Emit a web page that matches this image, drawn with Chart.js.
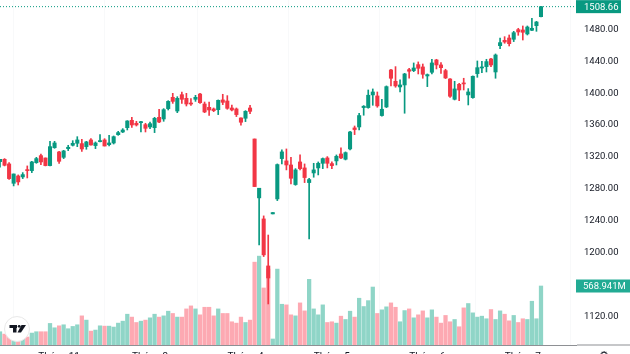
<!DOCTYPE html>
<html>
<head>
<meta charset="utf-8">
<script src="https://cdn.jsdelivr.net/npm/chart.js@4"></script>
<style>
html, body { margin: 0; padding: 0; background: #fff; width: 630px; height: 354px; overflow: hidden; }
canvas { display: block; }
</style>
</head>
<body>
<canvas id="chart" width="630" height="368"></canvas>
<script>
const opens = [1314.2,1317.1,1311.3,1287,1296.2,1295,1303.7,1302.9,1312.9,1321.7,
    1318.8,1309.2,1331.7,1326.3,1319.6,1330.5,1334.7,1337.2,1336.8,1333,
    1341.4,1334.3,1339.3,1341.4,1335.5,1337.6,1348,1351.4,1356.8,1366,
    1362.3,1363.1,1360.6,1357.7,1356.8,1369.8,1367.7,1380.7,1394.9,1377.7,
    1398.2,1393.6,1387.3,1392.4,1399,1386.5,1382.3,1380.3,1379.4,1391.6,
    1390.3,1381.5,1380.3,1369,1368.6,1381.5,1342.6,1268.7,1242.3,1183.3,
    1248.6,1267.4,1318,1315.1,1310,1285.4,1313.8,1306.3,1287.9,1300,
    1306.3,1312.1,1318.8,1311.7,1315.1,1323.8,1317.2,1330.1,1356.5,1357.7,
    1382,1382,1397.9,1396.6,1372,1382.8,1429.2,1415,1407.9,1410.4,
    1429.6,1428.4,1435.9,1433,1421.7,1426.3,1441.8,1435.5,1428.4,1417.9,
    1392.4,1411.2,1412.9,1397.9,1394.5,1424.6,1431.7,1433.4,1443,1426.7,
    1459.7,1466.4,1469.3,1467.7,1479.8,1479.4,1474.4,1479,1484.8,1496.1];
const closes = [1317.1,1309.6,1292.9,1298.7,1288.7,1297.9,1302.9,1313.8,1318,1313.8,
    1309.2,1333,1337.6,1314.6,1327.6,1332.2,1337.2,1341.4,1330.1,1338.9,
    1335.1,1337.6,1340.1,1333.8,1337.6,1345.5,1350.6,1353.9,1365.2,1360.2,
    1360.2,1363.9,1356,1361.8,1368.5,1363.9,1379.4,1389.8,1389.8,1393.6,
    1392.4,1386.5,1386.5,1394.9,1388.2,1376.5,1379,1378.2,1391.1,1388.6,
    1381.1,1379,1373.2,1363.6,1377.3,1377.3,1282.9,1280.8,1197.2,1168.2,
    1250.3,1310.5,1326.4,1310,1293.3,1303.8,1305.4,1294.2,1291.7,1303.8,
    1312.1,1318,1312.1,1309.2,1320.9,1318.8,1325.5,1351.4,1354.4,1372,
    1383.7,1397.5,1401.6,1384.1,1379.9,1408.3,1418.8,1409.2,1410.4,1424.2,
    1427.6,1431.7,1431.3,1423.8,1423.4,1438,1435.5,1432.1,1419.2,1396.2,
    1405.4,1404.1,1411.7,1401.6,1421.3,1432.1,1433,1439.7,1435.5,1448,
    1463.5,1464.3,1462.2,1476,1476.9,1476.5,1483.1,1481.5,1489.4,1508.66];
const highs = [1317.1,1318,1312.9,1298.7,1297.5,1300.4,1308.8,1314.6,1319.6,1323.8,
    1318.8,1339.7,1339.7,1327.1,1328.4,1334.7,1340.5,1345.5,1342.2,1339.7,
    1343,1338.9,1348,1343,1347.2,1346.4,1352.2,1355.6,1365.6,1369.8,
    1364.8,1364.8,1362.3,1363.9,1369.8,1379.8,1380.7,1390.7,1399.9,1395.7,
    1401.6,1399.9,1393.2,1397.4,1399.9,1389,1389,1381.5,1391.6,1398.7,
    1397,1385.3,1381.5,1369,1378.2,1384.9,1342.6,1280.8,1246.1,1222.1,
    1250.3,1311.3,1328.9,1330.1,1319.7,1305.4,1322.6,1311.3,1293.3,1312.1,
    1313.8,1318.8,1320.5,1313.8,1322.6,1331.4,1326.4,1352.3,1358.9,1374.9,
    1384.5,1404.1,1405.4,1401.6,1392.4,1409.2,1430.1,1433.4,1416.7,1425,
    1431.3,1438,1439.3,1436.7,1424.2,1442.6,1442.6,1438.4,1430.1,1418.4,
    1415,1412.5,1418.8,1405.8,1421.7,1440.5,1440.1,1442.6,1443.9,1449.3,
    1469.3,1471,1473.1,1477.7,1481.5,1484.4,1484.4,1494,1490.2,1509];
const lows = [1307.1,1308.8,1292,1283.7,1284.9,1292.9,1293.7,1300.4,1312.1,1310.4,
    1308.8,1308.8,1330.9,1312.1,1318,1328,1333.8,1333,1327.1,1329.7,
    1334.7,1330.5,1338.9,1333.8,1333.8,1336.3,1347.2,1350.6,1353.9,1357.2,
    1358.9,1351.4,1351.4,1355.6,1350.6,1363.1,1364.8,1379,1387.3,1375.6,
    1387.3,1384,1384.8,1389.8,1387.3,1375.6,1372.3,1376.9,1373.2,1385.7,
    1379.9,1377.8,1370.7,1359.8,1364.4,1374.4,1282.9,1209.7,1195.1,1135.6,
    1248.6,1265.3,1311.3,1303.8,1286.2,1284.5,1303.8,1287.9,1217.3,1294.6,
    1297.5,1305.4,1306.3,1305.4,1310,1318,1316.3,1328.9,1348.1,1354,
    1372.4,1381.2,1384.9,1382.4,1371.1,1382,1409.2,1407.5,1401.6,1374.9,
    1418.8,1427.1,1424.2,1418.8,1408.3,1424.2,1430.5,1425,1418.4,1394.9,
    1391.6,1390.8,1404.1,1385.3,1393.7,1420,1425.9,1426.7,1433.4,1418.8,
    1456,1462.7,1459.3,1464.8,1472.7,1466.8,1473.1,1478.5,1477.7,1495.7];
// volume in millions
const volumes = [128,105,109,93,61,61,77,115,128,128,
    128,208,166,185,195,157,179,195,281,240,
    134,144,185,182,182,173,211,230,297,269,
    217,230,240,262,297,269,281,326,304,269,
    269,348,377,348,291,364,364,281,348,304,
    304,224,211,269,217,240,799,857,550,732,
    58,732,393,387,291,281,406,329,633,348,
    291,387,217,224,211,278,246,326,269,451,
    371,428,559,304,339,368,406,364,224,332,
    348,262,291,329,262,339,269,211,285,224,
    246,176,358,400,310,269,278,253,342,246,
    329,297,233,285,217,253,246,422,253,568.941];

const priceTicks = [1120,1200,1240,1280,1320,1360,1400,1440,1480];
const monthBars = [13,33,54,73,94,115];
const monthLabels = ['Tháng 11','Tháng 3','Tháng 4','Tháng 5','Tháng 6','Tháng 7'];
const lastPrice = 1508.66;
const lastVolume = 568.941;

const GREEN = '#089981', RED = '#f23645';
const GREEN_VOL = '#8fd5c7', RED_VOL = '#fda9b2';
const FONT = 'Roboto';

const up = closes.map((c,i) => c >= opens[i]);
const bars = opens.map((o,i) => i);

// price tags, bottom line, logo and the settings glyph
const overlay = {
    id: 'overlay',
    afterDraw(chart) {
        const {ctx, scales} = chart;
        const tag = (y, w, color, text, tx) => {
            ctx.fillStyle = color;
            ctx.fillRect(576, y - 6.5, w, 13);
            ctx.fillStyle = '#fff';
            ctx.font = '9.5px ' + FONT;
            ctx.textBaseline = 'middle';
            ctx.textAlign = 'left';
            ctx.fillText(text, tx, y + 0.5);
        };
        ctx.save();
        // line continues under the price axis with a small gap
        ctx.fillStyle = '#8e9094';
        ctx.fillRect(577, chart.chartArea.bottom - 0.5, 53, 1);

        tag(scales.y.getPixelForValue(lastPrice), 45, GREEN, lastPrice.toFixed(2), 584);
        tag(scales.y1.getPixelForValue(lastVolume), 54, '#22ab94', lastVolume.toFixed(3) + 'M', 583);

        // logo badge
        ctx.beginPath();
        ctx.arc(17, 329, 12.5, 0, Math.PI * 2);
        ctx.fillStyle = '#fff';
        ctx.fill();
        ctx.strokeStyle = '#e8e8e8';
        ctx.lineWidth = 1;
        ctx.stroke();
        ctx.fillStyle = '#131722';
        ctx.fillRect(9.5, 325, 7.5, 3);
        ctx.fillRect(13, 325, 3.5, 7.5);
        ctx.beginPath();
        ctx.arc(19.2, 326.3, 1.4, 0, Math.PI * 2);
        ctx.fill();
        ctx.beginPath();
        ctx.moveTo(21.5, 325);
        ctx.lineTo(26, 325);
        ctx.lineTo(21, 332.5);
        ctx.lineTo(17.5, 332.5);
        ctx.closePath();
        ctx.fill();

        ctx.fillStyle = '#131722';
        ctx.font = '11px "DejaVu Sans"';
        ctx.textAlign = 'center';
        ctx.textBaseline = 'alphabetic';
        ctx.fillText('⚙', 604, 359);
        ctx.restore();
    }
};

new Chart(document.getElementById('chart').getContext('2d'), {
    type: 'bar',
    data: {
        datasets: [
            {
                type: 'line',
                data: [{x: 0, y: lastPrice}, {x: 127, y: lastPrice}],
                borderColor: GREEN,
                borderWidth: 1,
                borderDash: [1,2],
                pointRadius: 0,
                yAxisID: 'y',
                order: 0
            },{
                data: bars.map(i => ({x: i, y: [opens[i], closes[i]]})),
                backgroundColor: up.map(u => u ? GREEN : RED),
                barThickness: 3.4,
                minBarLength: 1,
                yAxisID: 'y',
                order: 1
            },{
                data: bars.map(i => ({x: i, y: [lows[i], highs[i]]})),
                backgroundColor: up.map(u => u ? GREEN : RED),
                barThickness: 1,
                yAxisID: 'y',
                order: 2
            },{
                data: bars.map(i => ({x: i, y: volumes[i]})),
                backgroundColor: up.map(u => u ? GREEN_VOL : RED_VOL),
                barThickness: 3.6,
                yAxisID: 'y1',
                order: 3
            }]
    },
    options: {
        responsive: false,
        animation: false,
        events: [],
        datasets: { bar: { grouped: false } },
        layout: { padding: 0 },
        plugins: { legend: { display: false }, tooltip: { enabled: false } },
        scales: {
            x: {
                type: 'linear',
                offset: false,
                min: 0,
                max: 126.7,
                afterBuildTicks: axis => { axis.ticks = monthBars.map(v => ({value: v})); },
                afterFit: axis => {
                    axis.height = 23;
                    axis.paddingLeft = 0;
                    axis.paddingRight = 0;
                },
                grid: { color: '#f8f9fa', drawTicks: false },
                border: { color: '#8e9094' },
                ticks: {
                    autoSkip: false,
                    maxRotation: 0,
                    padding: 6,
                    color: '#131722',
                    font: { family: FONT, size: 10 },
                    callback: v => monthLabels[monthBars.indexOf(v)]
                }
            },
            y: {
                position: 'right',
                min: 1084.1,
                max: 1517,
                afterBuildTicks: axis => { axis.ticks = priceTicks.map(v => ({value: v})); },
                afterFit: axis => {
                    axis.width = 54;
                    axis.paddingTop = 0;
                    axis.paddingBottom = 0;
                },
                grid: { display: false, drawTicks: false },
                border: { display: false },
                ticks: {
                    padding: 8,
                    color: '#131722',
                    font: { family: FONT, size: 9.5 },
                    callback: v => v.toFixed(2)
                }
            },
            y1: {
                display: false,
                min: 0,
                max: 3327
            }
        }
    },
    plugins: [overlay]
});
</script>
</body>
</html>
